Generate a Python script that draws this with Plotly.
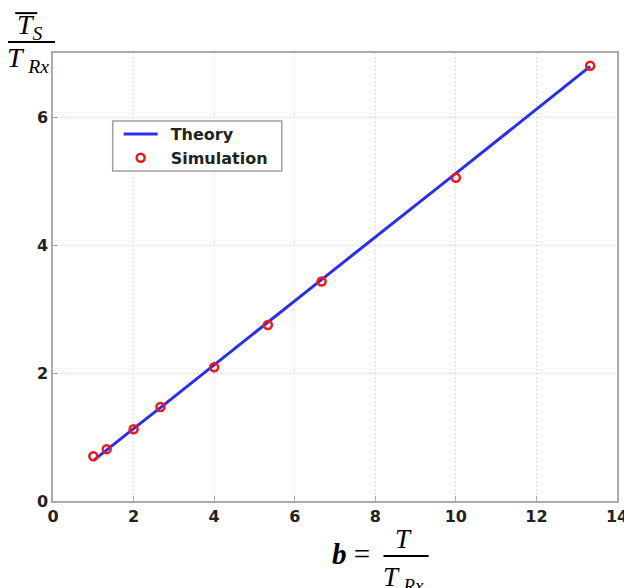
import plotly.graph_objects as go

# Data
beta_theory = [1.0, 1.333, 2.0, 2.667, 4.0, 5.333, 6.667, 10.0, 13.333]
ts_theory = [0.63, 0.80, 1.13, 1.46, 2.13, 2.79, 3.46, 5.12, 6.79]
beta_sim = [1.0, 1.333, 2.0, 2.667, 4.0, 5.333, 6.667, 10.0, 13.333]
ts_sim = [0.70, 0.81, 1.12, 1.47, 2.09, 2.75, 3.43, 5.05, 6.80]
x_ticks = [0, 2, 4, 6, 8, 10, 12, 14]
y_ticks = [0, 2, 4, 6]

fig = go.Figure()
fig.add_trace(go.Scatter(x=beta_theory, y=ts_theory, mode="lines", name="\u2002Theory",
                         line=dict(color="#2a2ef0", width=3)))
fig.add_trace(go.Scatter(x=beta_sim, y=ts_sim, mode="markers", name="\u2002Simulation",
                         marker=dict(symbol="circle-open", color="#f01818", size=8,
                                     line=dict(width=2.5, color="#f01818"))))

tickfont = dict(family="DejaVu Sans", size=16, color="#222", weight="bold")
gridstyle = dict(showgrid=True, gridcolor="#c8c8c8", griddash="1px,3px", gridwidth=1,
                 showline=True, linecolor="#aaaaaa", linewidth=1.5, mirror=True,
                 ticks="inside", ticklen=5, tickcolor="#aaaaaa", zeroline=False,
                 tickfont=tickfont)
fig.update_layout(
    width=632, height=588,
    margin=dict(l=45, r=20, t=45, b=95),
    paper_bgcolor="white", plot_bgcolor="white",
    showlegend=True,
    legend=dict(x=(119 - 53) / 567, y=0.857, xanchor="left", yanchor="top",
                bgcolor="rgba(0,0,0,0)", borderwidth=0,
                font=dict(family="DejaVu Sans", size=16, color="#222", weight="bold"),
                tracegroupgap=0, itemwidth=34),
    xaxis=dict(range=[0, 14], tickvals=x_ticks, ticktext=[str(v) for v in x_ticks], **gridstyle),
    yaxis=dict(range=[0, 7], tickvals=y_ticks, ticktext=[str(v) for v in y_ticks],
               ticklabelstandoff=0, **gridstyle),
)

serif = "Liberation Serif, Times New Roman"
ann = []
# y-axis label fraction (numerator T-bar with subscript S)
ann.append(dict(xref="paper", yref="paper", x=-0.0406, y=1.06, xanchor="center", yanchor="middle",
                text="<i>T</i><sub><i>S</i></sub>", showarrow=False,
                font=dict(family=serif, size=28, color="black")))
ann.append(dict(xref="paper", yref="paper", x=-0.044, y=0.985, xanchor="center", yanchor="middle",
                text="<i>T</i>\u2009<sub><i>Rx</i></sub>", showarrow=False,
                font=dict(family=serif, size=28, color="black")))
# x-axis label
ann.append(dict(xref="paper", yref="paper", x=0.529, y=-0.118, xanchor="center", yanchor="middle",
                text="<b><i>b</i></b> =", showarrow=False,
                font=dict(family=serif, size=29, color="black")))
ann.append(dict(xref="paper", yref="paper", x=0.621, y=-0.085, xanchor="center", yanchor="middle",
                text="<i>T</i>", showarrow=False,
                font=dict(family=serif, size=27, color="black")))
ann.append(dict(xref="paper", yref="paper", x=0.621, y=-0.175, xanchor="center", yanchor="middle",
                text="<i>T</i>\u2009<sub><i>Rx</i></sub>", showarrow=False,
                font=dict(family=serif, size=27, color="black")))
fig.update_layout(annotations=ann)

shapes = [
    # legend frame
    dict(type="rect", xref="paper", yref="paper", x0=(113 - 53) / 567, x1=(283 - 53) / 567,
         y0=(501 - 171) / 448, y1=(501 - 121) / 448, layer="above",
         line=dict(color="#a0a0a0", width=1.5), fillcolor="white"),
    # bar over T
    dict(type="line", xref="paper", yref="paper", x0=-0.067, x1=-0.028, y0=1.089, y1=1.089,
         line=dict(color="black", width=2)),
    # y fraction line
    dict(type="line", xref="paper", yref="paper", x0=-0.081, x1=0.0035, y0=1.0246, y1=1.0246,
         line=dict(color="black", width=2)),
    # x fraction line
    dict(type="line", xref="paper", yref="paper", x0=0.586, x1=0.666, y0=-0.1228, y1=-0.1228,
         line=dict(color="black", width=2)),
]
fig.update_layout(shapes=shapes)

fig.write_html("out.html")
